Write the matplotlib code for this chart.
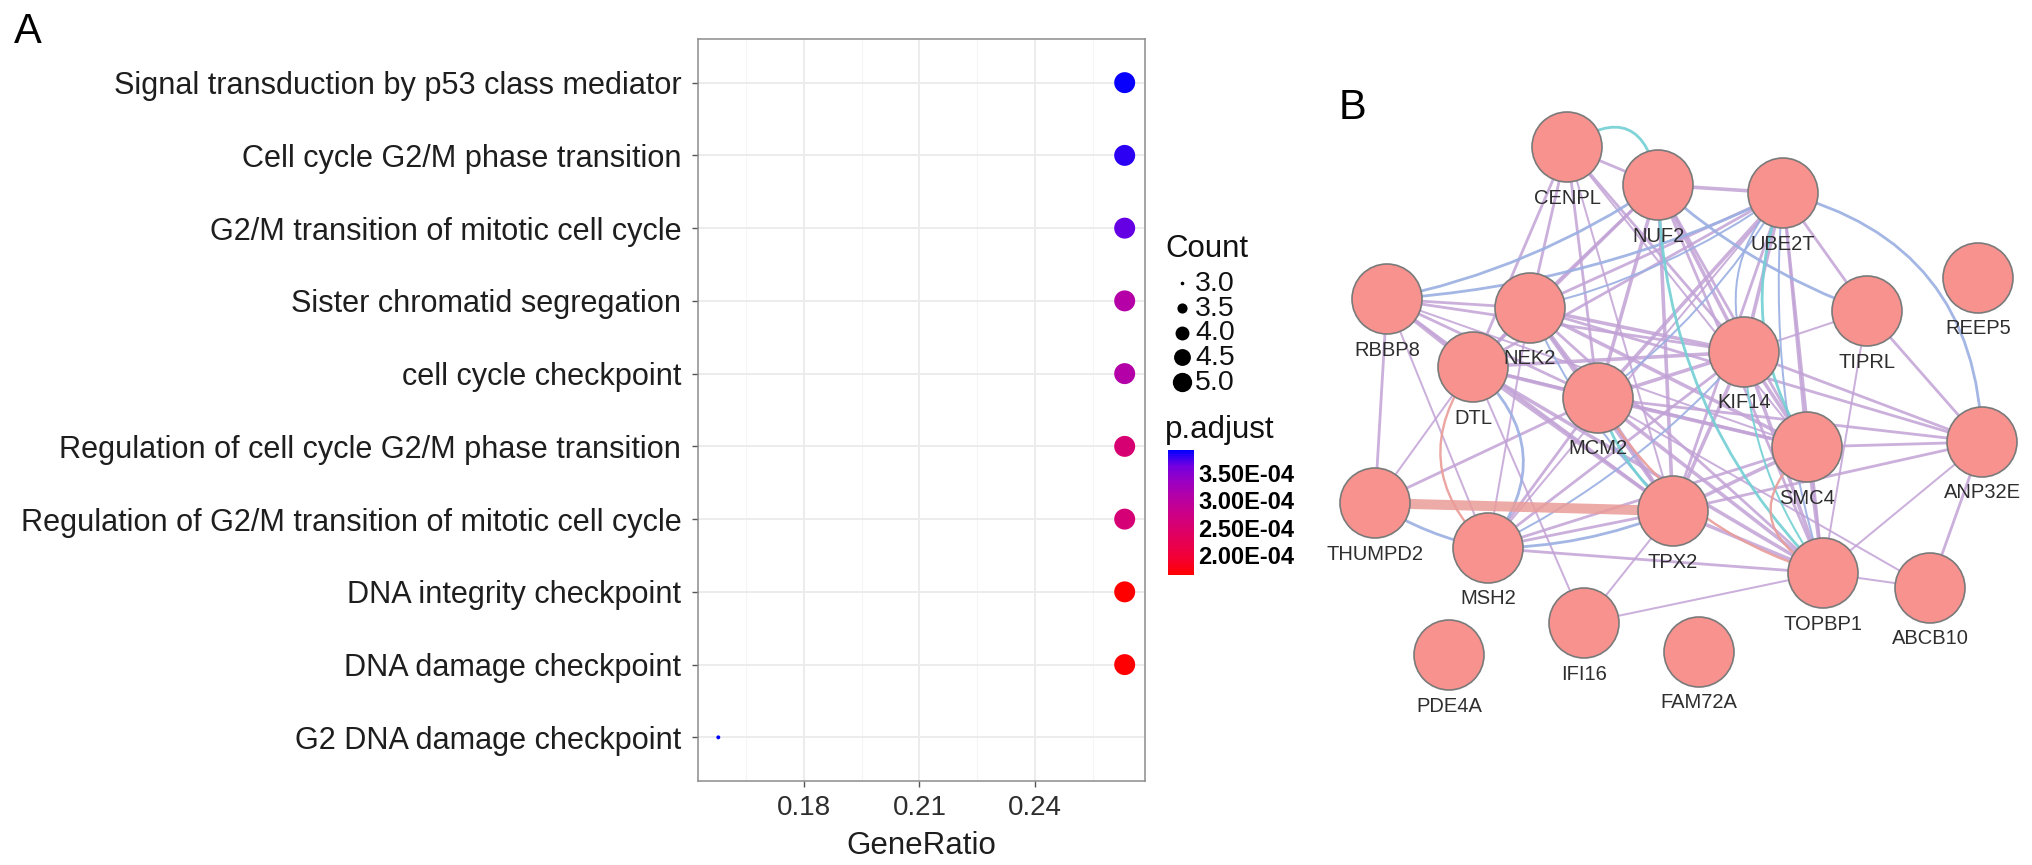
import numpy as np
import matplotlib
matplotlib.use('Agg')
import matplotlib.pyplot as plt
from matplotlib.colors import LinearSegmentedColormap, Normalize
from matplotlib.cm import ScalarMappable
from matplotlib.patches import Circle, PathPatch
from matplotlib.path import Path
from matplotlib.ticker import FuncFormatter

plt.rcParams['font.family'] = ['Liberation Sans', 'DejaVu Sans']

W, H = 2032, 865

# ---- panel A: GO enrichment (top to bottom) ----
terms = ['Signal transduction by p53 class mediator',
         'Cell cycle G2/M phase transition',
         'G2/M transition of mitotic cell cycle',
         'Sister chromatid segregation',
         'cell cycle checkpoint',
         'Regulation of cell cycle G2/M phase transition',
         'Regulation of G2/M transition of mitotic cell cycle',
         'DNA integrity checkpoint',
         'DNA damage checkpoint',
         'G2 DNA damage checkpoint']
gene_ratio = ['5/19'] * 9 + ['3/19']
counts = [5, 5, 5, 5, 5, 5, 5, 5, 5, 3]
p_adjust = [3.89e-4, 3.80e-4, 3.66e-4, 3.06e-4, 3.08e-4,
            2.56e-4, 2.58e-4, 1.64e-4, 1.65e-4, 3.91e-4]

ratio_ticks = [0.18, 0.21, 0.24]
count_breaks = [3.0, 3.5, 4.0, 4.5, 5.0]
p_breaks = [2.0e-4, 2.5e-4, 3.0e-4, 3.5e-4]

# ---- panel B: GeneMANIA network, layout (px) ----
genes = ['CENPL', 'NUF2', 'UBE2T', 'REEP5', 'RBBP8', 'NEK2', 'TIPRL', 'KIF14', 'DTL', 'MCM2',
         'SMC4', 'ANP32E', 'THUMPD2', 'TPX2', 'MSH2', 'TOPBP1', 'ABCB10', 'IFI16', 'FAM72A', 'PDE4A']
gene_x = [1567, 1658, 1783, 1978, 1387, 1530, 1867, 1744, 1473, 1598,
          1807, 1982, 1375, 1673, 1488, 1823, 1930, 1584, 1699, 1449]
gene_y = [147, 185, 193, 278, 299, 308, 311, 352, 367, 398,
          447, 442, 503, 511, 548, 573, 588, 623, 652, 655]

coexpression = [
    ('CENPL', 'NEK2', 2), ('CENPL', 'DTL', 2), ('CENPL', 'MCM2', 2), ('CENPL', 'KIF14', 2),
    ('CENPL', 'TPX2', 1), ('CENPL', 'NUF2', 2), ('CENPL', 'SMC4', 1),
    ('NUF2', 'NEK2', 2), ('NUF2', 'DTL', 2), ('NUF2', 'MCM2', 3), ('NUF2', 'KIF14', 3),
    ('NUF2', 'TPX2', 3), ('NUF2', 'SMC4', 2), ('NUF2', 'UBE2T', 3), ('NUF2', 'TOPBP1', 2),
    ('UBE2T', 'NEK2', 2), ('UBE2T', 'DTL', 2), ('UBE2T', 'MCM2', 3), ('UBE2T', 'KIF14', 3),
    ('UBE2T', 'TPX2', 2), ('UBE2T', 'SMC4', 2), ('UBE2T', 'TOPBP1', 2), ('UBE2T', 'TIPRL', 2),
    ('UBE2T', 'MSH2', 1),
    ('RBBP8', 'NEK2', 2), ('RBBP8', 'DTL', 3), ('RBBP8', 'MCM2', 2), ('RBBP8', 'KIF14', 2),
    ('RBBP8', 'TPX2', 2), ('RBBP8', 'THUMPD2', 2), ('RBBP8', 'MSH2', 1), ('RBBP8', 'SMC4', 1),
    ('NEK2', 'DTL', 2), ('NEK2', 'MCM2', 3), ('NEK2', 'KIF14', 3), ('NEK2', 'TPX2', 3),
    ('NEK2', 'SMC4', 3), ('NEK2', 'TOPBP1', 2), ('NEK2', 'ANP32E', 2), ('NEK2', 'MSH2', 1),
    ('KIF14', 'DTL', 3), ('KIF14', 'MCM2', 3), ('KIF14', 'TPX2', 3), ('KIF14', 'SMC4', 3),
    ('KIF14', 'TOPBP1', 3), ('KIF14', 'ANP32E', 2), ('KIF14', 'TIPRL', 1), ('KIF14', 'MSH2', 2),
    ('DTL', 'MCM2', 3), ('DTL', 'TPX2', 3), ('DTL', 'SMC4', 2), ('DTL', 'TOPBP1', 3),
    ('DTL', 'THUMPD2', 1), ('DTL', 'IFI16', 1),
    ('MCM2', 'TPX2', 3), ('MCM2', 'SMC4', 3), ('MCM2', 'TOPBP1', 3), ('MCM2', 'MSH2', 2),
    ('MCM2', 'THUMPD2', 2), ('MCM2', 'ANP32E', 2),
    ('TPX2', 'SMC4', 3), ('TPX2', 'TOPBP1', 3), ('TPX2', 'ANP32E', 2), ('TPX2', 'MSH2', 2),
    ('TPX2', 'IFI16', 1),
    ('SMC4', 'TOPBP1', 3), ('SMC4', 'ANP32E', 2), ('SMC4', 'MSH2', 2),
    ('TOPBP1', 'ANP32E', 1), ('TOPBP1', 'ABCB10', 1), ('TOPBP1', 'MSH2', 2), ('TOPBP1', 'IFI16', 1),
    ('TIPRL', 'ANP32E', 2), ('ANP32E', 'ABCB10', 2), ('ABCB10', 'MCM2', 1), ('TIPRL', 'TOPBP1', 1),
]
colocalization = [
    ('RBBP8', 'NUF2', 2), ('RBBP8', 'UBE2T', 2), ('NUF2', 'TIPRL', 2), ('NEK2', 'UBE2T', 1),
    ('THUMPD2', 'MSH2', 2), ('MSH2', 'TPX2', 2), ('UBE2T', 'ANP32E', 2), ('UBE2T', 'TOPBP1', 1),
    ('DTL', 'MSH2', 2), ('KIF14', 'UBE2T', 1), ('NEK2', 'TPX2', 1), ('MCM2', 'UBE2T', 1),
    ('MSH2', 'KIF14', 1),
]
pathway = [('CENPL', 'NUF2', 2), ('NUF2', 'TOPBP1', 2), ('UBE2T', 'SMC4', 2),
           ('MCM2', 'TPX2', 2), ('KIF14', 'TOPBP1', 1)]
physical = [('THUMPD2', 'TPX2', 10), ('DTL', 'MSH2', 1.5), ('SMC4', 'TOPBP1', 1.5),
            ('MCM2', 'TOPBP1', 1.5)]

# ---- colours ----
# ggplot red -> blue gradient (Lab interpolation, sampled)
cmap = LinearSegmentedColormap.from_list('padj', [
    (0.0, '#FF0000'), (0.125, '#F40031'), (0.25, '#E80050'), (0.375, '#DA006C'),
    (0.5, '#CA0089'), (0.625, '#B500A5'), (0.75, '#9A00C2'), (0.875, '#7300E0'),
    (1.0, '#0000FF')])
norm = Normalize(vmin=min(p_adjust), vmax=max(p_adjust))

net_style = {
    'coexp': ('#C2A2D6', 0.0),
    'coloc': ('#9AAFE2', 0.10),
    'pathway': ('#72D0D4', 0.15),
    'physical': ('#EA9C98', 0.20),
}
bends = {('CENPL', 'NUF2', 'pathway'): -0.8,
         ('UBE2T', 'ANP32E', 'coloc'): -0.38,
         ('DTL', 'MSH2', 'coloc'): -0.47,
         ('DTL', 'MSH2', 'physical'): 0.44,
         ('SMC4', 'TOPBP1', 'physical'): 0.7,
         ('NUF2', 'TOPBP1', 'pathway'): 0.2,
         ('UBE2T', 'SMC4', 'pathway'): 0.25,
         ('KIF14', 'UBE2T', 'coloc'): -0.3,
         ('THUMPD2', 'TPX2', 'physical'): 0.0}


def dot_size(c):
    # area scale, s in pt^2
    return np.interp(c, [3, 5], [8, 228])


fig = plt.figure(figsize=(W / 100, H / 100), dpi=100)

# ---------------- panel A ----------------
ax = fig.add_axes([698 / W, 1 - 781 / H, 447 / W, 742 / H])
ratio = np.array([int(a) / int(b) for a, b in (r.split('/') for r in gene_ratio)])
ypos = np.arange(len(terms))
ax.scatter(ratio, ypos, s=dot_size(np.array(counts)), c=p_adjust, cmap=cmap, norm=norm,
           linewidths=0, zorder=3)
pad = 0.05 * (ratio.max() - ratio.min())
ax.set_xlim(ratio.min() - pad, ratio.max() + pad)
ax.set_ylim(len(terms) - 1 + 0.6, -0.6)
ax.set_yticks(ypos)
ax.set_yticklabels(terms, fontsize=22.1, color='#1E1E1E')
ax.set_xticks(ratio_ticks)
ax.set_xticklabels([f'{t:.2f}' for t in ratio_ticks], fontsize=20, color='#2E2E2E')
ax.set_xticks([t + 0.015 for t in [0.15] + ratio_ticks], minor=True)
ax.tick_params(which='major', length=4, width=1, color='#555555')
ax.tick_params(axis='y', pad=8)
ax.tick_params(axis='x', pad=6)
ax.tick_params(which='minor', length=0)
ax.grid(which='major', color='#EBEBEB', lw=1.3)
ax.grid(which='minor', axis='x', color='#F5F5F5', lw=0.8)
ax.set_axisbelow(True)
for sp in ax.spines.values():
    sp.set_color('#8C8C8C')
    sp.set_linewidth(1.1)
ax.set_xlabel('GeneRatio', fontsize=22.5, color='#1E1E1E', labelpad=7)

# colour bar
cax = fig.add_axes([1168 / W, 1 - 575 / H, 26 / W, 125 / H])
cb = fig.colorbar(ScalarMappable(norm=norm, cmap=cmap), cax=cax, ticks=p_breaks)
cb.outline.set_visible(False)
cb.ax.yaxis.set_major_formatter(FuncFormatter(lambda v, _: f'{v:.2E}'))
cb.ax.tick_params(length=0, pad=3)
for t in cb.ax.get_yticklabels():
    t.set_fontsize(17)
    t.set_fontweight('bold')

# ---------------- overlay: legends + panel B ----------------
net = fig.add_axes([0, 0, 1, 1])
net.set_xlim(0, W)
net.set_ylim(H, 0)
net.axis('off')
net.patch.set_alpha(0)

# Count legend
net.text(1165, 249, 'Count', fontsize=22.5, ha='left', va='center', color='#111111')
for i, c in enumerate(count_breaks):
    yy = 283 + 24.75 * i
    net.scatter([1182], [yy], s=dot_size(c) * 0.85, color='black', linewidths=0)
    net.text(1195, yy + 1, f'{c:.1f}', fontsize=20.5, ha='left', va='center', color='#111111')
net.text(1165, 430, 'p.adjust', fontsize=22.5, ha='left', va='center', color='#111111')

# edges
pos = {g: (x, y) for g, x, y in zip(genes, gene_x, gene_y)}


def draw_edge(a, b, w, kind):
    color, default_bend = net_style[kind]
    bend = bends.get((a, b, kind), default_bend)
    (x0, y0), (x1, y1) = pos[a], pos[b]
    lw = (1.2 + 0.8 * w) * 0.72 if w < 5 else w * 0.72
    if bend == 0:
        net.plot([x0, x1], [y0, y1], color=color, lw=lw, alpha=0.85,
                 solid_capstyle='butt', zorder=2)
        return
    dx, dy = x1 - x0, y1 - y0
    cx = (x0 + x1) / 2 - dy * bend
    cy = (y0 + y1) / 2 + dx * bend
    p = Path([(x0, y0), (cx, cy), (x1, y1)], [Path.MOVETO, Path.CURVE3, Path.CURVE3])
    net.add_patch(PathPatch(p, fc='none', ec=color, lw=lw, alpha=0.9, zorder=2))


for a, b, w in coexpression:
    draw_edge(a, b, w, 'coexp')
for a, b, w in colocalization:
    draw_edge(a, b, w, 'coloc')
for a, b, w in pathway:
    draw_edge(a, b, w, 'pathway')
for a, b, w in physical:
    draw_edge(a, b, w, 'physical')

# nodes
for g, x, y in zip(genes, gene_x, gene_y):
    net.add_patch(Circle((x, y), 35, fc='#F7928E', ec='#7A7A7A', lw=1.2, zorder=5))
    net.text(x, y + 51, g, fontsize=14.5, ha='center', va='center', color='#2E2E2E', zorder=6)

fig.text(28 / W, 1 - 32 / H, 'A', fontsize=30, ha='center', va='center')
fig.text(1352 / W, 1 - 108 / H, 'B', fontsize=30, ha='center', va='center')

fig.savefig('out.png', dpi=100)
